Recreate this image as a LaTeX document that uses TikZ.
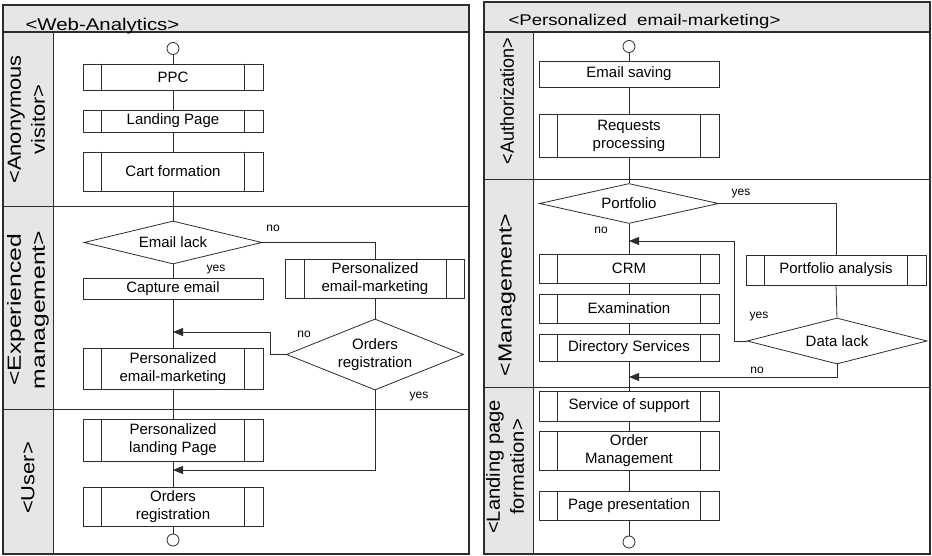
\documentclass[tikz,border=0pt]{standalone}
\usepackage{graphicx}
\usepackage{fontspec}
\setmainfont{Liberation Sans}
\usetikzlibrary{arrows.meta,shapes.geometric}
\definecolor{lanegray}{RGB}{230,230,230}
\definecolor{linegray}{RGB}{45,45,45}

\begin{document}
\begin{tikzpicture}[x=1pt,y=-1pt,>={Triangle[length=10pt,width=8pt]},
  every node/.style={font=\fontsize{15}{18}\selectfont},
  flow/.style={draw=linegray,line width=0.8pt},
  frame/.style={draw=linegray,line width=1.2pt},
  act/.style={draw=linegray,line width=0.8pt,fill=white,minimum width=180pt,inner sep=1pt,align=center},
  proc/.style={act,path picture={
      \draw[linegray,line width=0.8pt]
        ([xshift=18.5pt]path picture bounding box.north west) -- ([xshift=18.5pt]path picture bounding box.south west)
        ([xshift=-18.5pt]path picture bounding box.north east) -- ([xshift=-18.5pt]path picture bounding box.south east);}},
  cond/.style={diamond,draw=linegray,line width=0.8pt,fill=white,inner sep=0pt,align=center},
  term/.style={circle,draw=linegray,line width=0.8pt,fill=white,minimum size=12pt,inner sep=0pt},
  tag/.style={font=\fontsize{12}{14}\selectfont},
  lane/.style={rotate=90,font=\fontsize{19}{24}\selectfont},
  title/.style={anchor=base west}]

  \useasboundingbox (0,0) rectangle (932,556);

  % ---- left panel: web analytics
  \fill[lanegray] (3,5) rectangle (469,32);
  \fill[lanegray] (3,32) rectangle (53,554);
  \draw[frame] (3,5) rectangle (469,554);
  \draw[frame] (3,32) -- (469,32);
  \draw[flow,line width=1pt] (53,32) -- (53,554);
  \draw[flow,line width=1pt] (3,207) -- (469,207);
  \draw[flow,line width=1pt] (3,409) -- (469,409);

  \node[title,font=\fontsize{17}{20}\selectfont] (webtitle) at (22,30.5) {\scalebox{1.2}[1]{<Web-Analytics>}};
  \node[lane] (anon) at (28,119.5) {\scalebox{1.15}[1]{\begin{tabular}{@{}c@{}}<Anonymous\\visitor>\end{tabular}}};
  \node[lane] (exper) at (28,310) {\scalebox{1.3}[1]{\begin{tabular}{@{}c@{}}<Experienced\\management>\end{tabular}}};
  \node[lane] (user) at (28,478) {\scalebox{1.15}[1]{<User>}};

  \node[term] (startA) at (173,48.5) {};
  \node[proc,minimum height=26pt] (ppc) at (173,77) {PPC};
  \node[proc,minimum height=22pt] (landing) at (173,121) {Landing Page};
  \node[proc,minimum height=39pt] (cart) at (173,171.5) {Cart formation};
  \node[cond,minimum width=178pt,minimum height=43pt,shape aspect=4.1] (emaillack) at (173,242.5) {Email lack};
  \node[act,minimum height=21pt] (capture) at (173,288.5) {Capture email};
  \node[proc,minimum width=179pt,minimum height=39pt] (pemailR) at (375,278.5) {Personalized\\email-marketing};
  \node[cond,minimum width=177pt,minimum height=71pt,shape aspect=2.5] (ordcond) at (375,354.5) {Orders\\registration};
  \node[proc,minimum height=41pt] (pemailL) at (173,368.5) {Personalized\\email-marketing};
  \node[proc,minimum height=42pt] (plpage) at (173,440) {Personalized\\landing Page};
  \node[proc,minimum height=39pt] (ordbox) at (173,506.5) {Orders\\registration};
  \node[term] (endA) at (173,540) {};

  \coordinate (joinA) at (173,332);
  \coordinate (joinB) at (173,470);

  \draw[flow] (startA) -- (ppc);
  \draw[flow] (ppc) -- (landing);
  \draw[flow] (landing) -- (cart);
  \draw[flow] (cart) -- (emaillack);
  \draw[flow] (emaillack) -- (capture);
  \draw[flow] (emaillack.east) -| (pemailR.north);
  \draw[flow] (capture) -- (pemailL);
  \draw[flow] (pemailR) -- (ordcond);
  \draw[flow,->] (ordcond.west) -- ++(-16,0) |- (joinA);
  \draw[flow] (pemailL) -- (plpage);
  \draw[flow] (plpage) -- (ordbox);
  \draw[flow,->] (ordcond.south) |- (joinB);
  \draw[flow] (ordbox) -- (endA);

  \node[tag] (noA) at (273,228) {no};
  \node[tag] (yesA) at (216,270) {yes};
  \node[tag] (noB) at (304,334) {no};
  \node[tag] (yesB) at (419,397) {yes};

  % ---- right panel: personalized email-marketing
  \fill[lanegray] (484,2) rectangle (930,32);
  \fill[lanegray] (484,32) rectangle (533,554);
  \draw[frame] (484,2) rectangle (930,554);
  \draw[frame] (484,32) -- (930,32);
  \draw[flow,line width=1pt] (533,32) -- (533,554);
  \draw[flow,line width=1pt] (484,180) -- (930,180);
  \draw[flow,line width=1pt] (484,387) -- (930,387);

  \node[title,font=\fontsize{15.5}{18}\selectfont] (pemtitle) at (505,26) {\scalebox{1.2}[1]{<Personalized\ \ email-marketing>}};
  \node[lane] (auth) at (507,101) {\scalebox{0.95}[1]{<Authorization>}};
  \node[lane] (mgmt) at (507,295) {\scalebox{1.22}[1]{<Management>}};
  \node[lane] (lpform) at (507,467) {\scalebox{1.06}[1]{\begin{tabular}{@{}c@{}}<Landing page\\formation>\end{tabular}}};

  \node[term] (startB) at (629,46.5) {};
  \node[act,minimum height=26pt] (saving) at (629,74) {Email saving};
  \node[proc,minimum height=43pt] (requests) at (629,135.5) {Requests\\processing};
  \node[cond,minimum width=179pt,minimum height=40pt,shape aspect=4.5] (portf) at (629,203.5) {Portfolio};
  \node[proc,minimum height=29pt] (crm) at (629,268.5) {CRM};
  \node[proc,minimum height=29pt] (exam) at (629,308.5) {Examination};
  \node[proc,minimum height=27pt] (dirserv) at (629,347.5) {Directory Services};
  \node[proc,minimum height=30pt] (panalysis) at (836,270) {Portfolio analysis};
  \node[cond,minimum width=180pt,minimum height=46pt,shape aspect=3.9] (datalack) at (837,341) {Data lack};
  \node[proc,minimum height=30pt] (support) at (629,406) {Service of support};
  \node[proc,minimum height=39pt] (ordmgmt) at (629,450.5) {Order\\Management};
  \node[proc,minimum height=29pt] (pagepres) at (629,505.5) {Page presentation};
  \node[term] (endB) at (629,542) {};

  \coordinate (joinC) at (629,241);
  \coordinate (joinD) at (629,377);

  \draw[flow] (startB) -- (saving);
  \draw[flow] (saving) -- (requests);
  \draw[flow] (requests) -- (portf);
  \draw[flow] (portf.east) -| (panalysis.north);
  \draw[flow] (portf) -- (crm);
  \draw[flow] (panalysis.south) -- (datalack.north);
  \draw[flow,->] (datalack.west) -- ++(-12,0) |- (joinC);
  \draw[flow] (crm) -- (exam);
  \draw[flow] (exam) -- (dirserv);
  \draw[flow] (dirserv) -- (support);
  \draw[flow,->] (datalack.south) |- (joinD);
  \draw[flow] (support) -- (ordmgmt);
  \draw[flow] (ordmgmt) -- (pagepres);
  \draw[flow] (pagepres) -- (endB);

  \node[tag] (yesC) at (741,194) {yes};
  \node[tag] (noC) at (601,230) {no};
  \node[tag] (yesD) at (759,317) {yes};
  \node[tag] (noD) at (757,370) {no};
\end{tikzpicture}
\end{document}
